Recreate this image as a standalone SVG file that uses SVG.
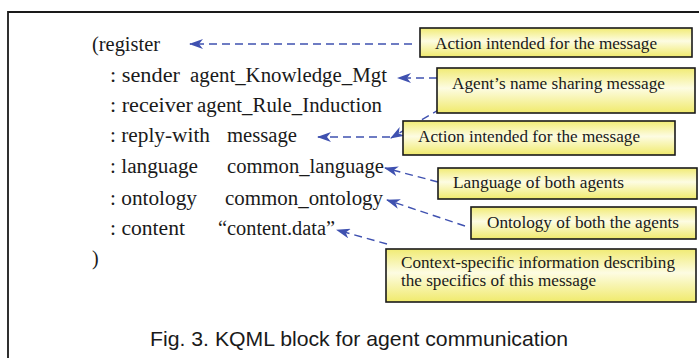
<svg xmlns="http://www.w3.org/2000/svg" width="699" height="358" viewBox="0 0 699 358">
<style>
.code{font-family:'Liberation Serif','Times New Roman','DejaVu Serif',serif;font-size:20px;fill:#1a1a1a}
.lbl{font-family:'Liberation Serif','Times New Roman','DejaVu Serif',serif;font-size:16px;fill:#1a1a1a}
.box{fill:url(#yg);stroke:#1a1a1a;stroke-width:1.6}
.conn{fill:none;stroke:#3f51b0;stroke-width:1.4;stroke-dasharray:8,5;marker-end:url(#ah)}
.cap{font-family:'Liberation Sans',Arial,sans-serif;font-size:21px;fill:#1a1a1a}
</style>
<defs>
<linearGradient id="yg" x1="0" y1="0" x2="0" y2="1">
<stop offset="0" stop-color="#f1eb74"/>
<stop offset="0.45" stop-color="#fdfce2"/>
<stop offset="1" stop-color="#f0ea6c"/>
</linearGradient>
<marker id="ah" viewBox="0 0 14 10" refX="13" refY="5" markerWidth="14" markerHeight="10" markerUnits="userSpaceOnUse" orient="auto">
<path d="M0,0 L14,5 L0,10 L4,5 Z" fill="#3f51b0"/>
</marker>
</defs>
<rect x="0" y="0" width="699" height="358" fill="#ffffff"/>
<path d="M8,372 V12 H712" fill="none" stroke="#1a1a1a" stroke-width="1.8"/>
<g id="code">
<text class="code" x="92" y="51" textLength="68" lengthAdjust="spacingAndGlyphs">(register</text>
<text class="code" x="110" y="82" textLength="70" lengthAdjust="spacingAndGlyphs">: sender</text>
<text class="code" x="190" y="82" textLength="197" lengthAdjust="spacingAndGlyphs">agent_Knowledge_Mgt</text>
<text class="code" x="110" y="112" textLength="83" lengthAdjust="spacingAndGlyphs">: receiver</text>
<text class="code" x="197" y="112" textLength="185" lengthAdjust="spacingAndGlyphs">agent_Rule_Induction</text>
<text class="code" x="110" y="142" textLength="100" lengthAdjust="spacingAndGlyphs">: reply-with</text>
<text class="code" x="227" y="142" textLength="70" lengthAdjust="spacingAndGlyphs">message</text>
<text class="code" x="110" y="173" textLength="88" lengthAdjust="spacingAndGlyphs">: language</text>
<text class="code" x="227" y="173" textLength="157" lengthAdjust="spacingAndGlyphs">common_language</text>
<text class="code" x="110" y="205" textLength="87" lengthAdjust="spacingAndGlyphs">: ontology</text>
<text class="code" x="225" y="205" textLength="158" lengthAdjust="spacingAndGlyphs">common_ontology</text>
<text class="code" x="110" y="235" textLength="75" lengthAdjust="spacingAndGlyphs">: content</text>
<text class="code" x="218" y="235" textLength="117" lengthAdjust="spacingAndGlyphs">“content.data”</text>
<text class="code" x="92" y="265">)</text>
</g>
<g id="connectors">
<line class="conn" x1="412" y1="44" x2="190" y2="44"/>
<line class="conn" x1="437" y1="78" x2="398" y2="78"/>
<line class="conn" x1="440" y1="109" x2="391" y2="138"/>
<line class="conn" x1="390" y1="137" x2="318" y2="137"/>
<line class="conn" x1="438" y1="182" x2="385" y2="168"/>
<line class="conn" x1="465" y1="226" x2="387" y2="200"/>
<line class="conn" x1="387" y1="244" x2="337" y2="230"/>
</g>
<g id="box1"><rect class="box" x="420" y="28" width="272" height="29"/><text class="lbl" x="435" y="49" textLength="222" lengthAdjust="spacingAndGlyphs">Action intended for the message</text></g>
<g id="box2"><rect class="box" x="437" y="68" width="258" height="45"/><text class="lbl" x="452" y="89" textLength="213" lengthAdjust="spacingAndGlyphs">Agent’s name sharing message</text></g>
<g id="box3"><rect class="box" x="403" y="121" width="272" height="34"/><text class="lbl" x="418" y="142" textLength="222" lengthAdjust="spacingAndGlyphs">Action intended for the message</text></g>
<g id="box4"><rect class="box" x="438" y="168" width="259" height="31"/><text class="lbl" x="453" y="188" textLength="171" lengthAdjust="spacingAndGlyphs">Language of both agents</text></g>
<g id="box5"><rect class="box" x="471" y="207" width="225" height="32"/><text class="lbl" x="487" y="228" textLength="192" lengthAdjust="spacingAndGlyphs">Ontology of both the agents</text></g>
<g id="box6"><rect class="box" x="386" y="249" width="310" height="53"/><text class="lbl" x="401" y="268" textLength="274" lengthAdjust="spacingAndGlyphs">Context-specific information describing</text><text class="lbl" x="401" y="286" textLength="195" lengthAdjust="spacingAndGlyphs">the specifics of this message</text></g>
<text class="cap" x="150" y="346" textLength="418" lengthAdjust="spacingAndGlyphs">Fig. 3. KQML block for agent communication</text>
</svg>
